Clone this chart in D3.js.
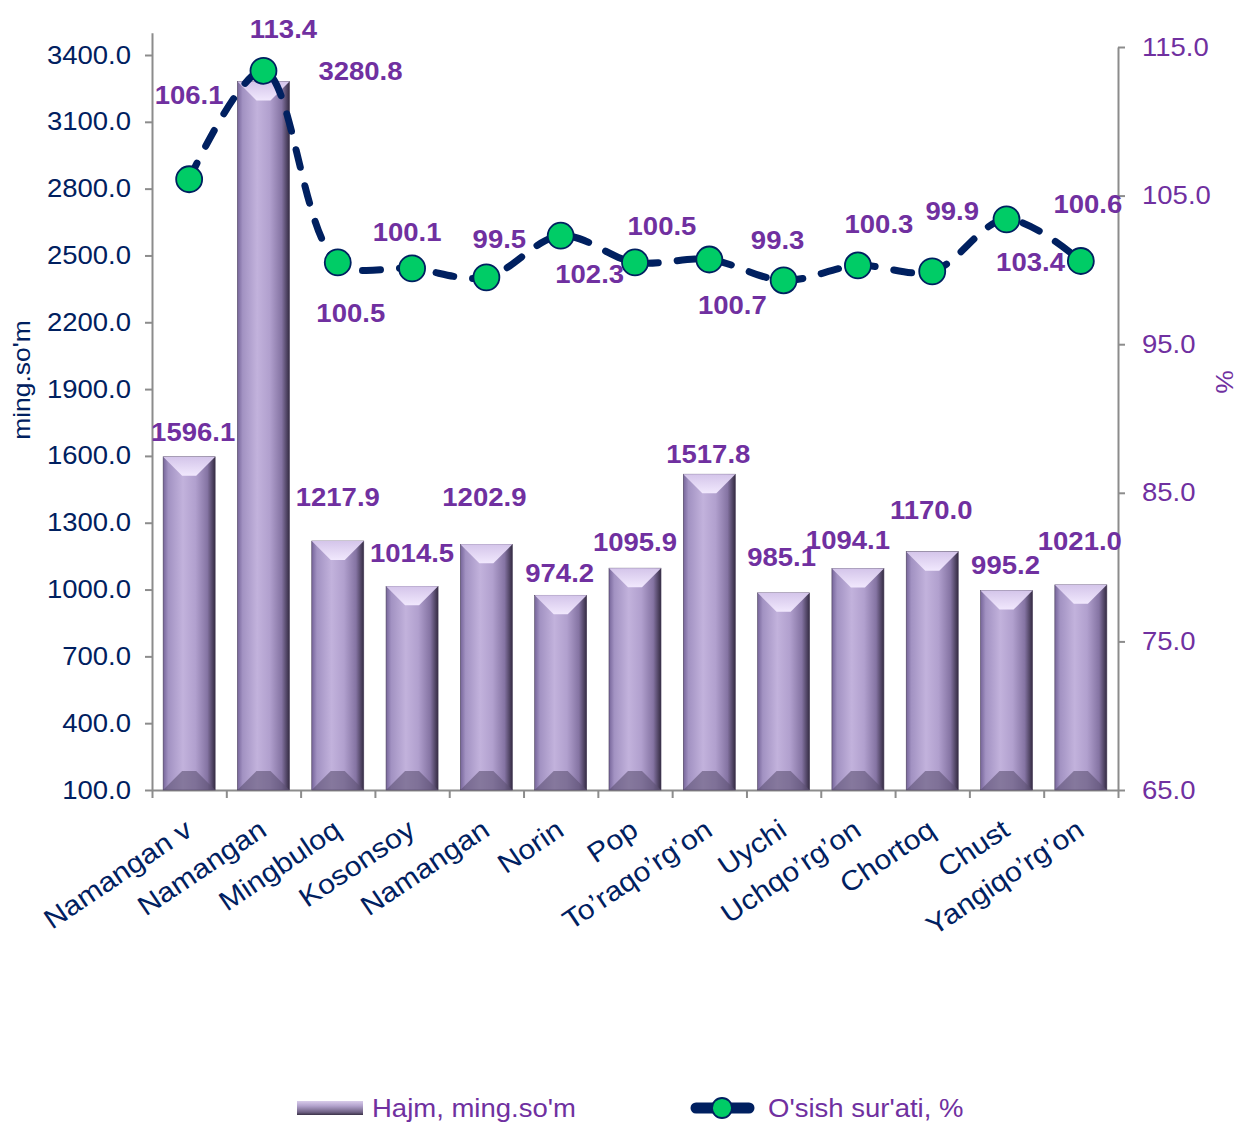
<!DOCTYPE html>
<html lang="uz">
<head>
<meta charset="UTF-8">
<title>Hajm va o'sish sur'ati</title>
<script src="https://d3js.org/d3.v7.min.js"></script>
<style>
  body { margin: 0; background: #fff; }
  text { font-family: "Liberation Sans", Arial, sans-serif; }
</style>
</head>
<body>
<svg width="1239" height="1122"></svg>
<script>
// data
const districts = ["Namangan v", "Namangan", "Mingbuloq", "Kosonsoy", "Namangan", "Norin", "Pop",
                   "To\u2019raqo\u2019rg\u2019on", "Uychi", "Uchqo\u2019rg\u2019on", "Chortoq", "Chust", "Yangiqo\u2019rg\u2019on"];
const volume = [1596.1, 3280.8, 1217.9, 1014.5, 1202.9, 974.2, 1095.9, 1517.8, 985.1, 1094.1, 1170.0, 995.2, 1021.0];
const growth = [106.1, 113.4, 100.5, 100.1, 99.5, 102.3, 100.5, 100.7, 99.3, 100.3, 99.9, 103.4, 100.6];
const leftTicks = [100, 400, 700, 1000, 1300, 1600, 1900, 2200, 2500, 2800, 3100, 3400];
const rightTicks = [65, 75, 85, 95, 105, 115];

// label placement (offsets from the mark, as in the original excel layout)
const barLabelOff = [[4,-25],[97,-10],[0,-44],[0,-33],[-2,-47],[-1,-22],[0,-26],[-1,-20],[-2,-36],[-10,-28],[-1,-41],[-1,-25],[-1,-44]];
const lineLabelOff = [[0,-84],[20,-42],[13,51],[-5,-36],[13,-38],[29,39],[27,-36],[23,46],[-6,-40],[21,-41],[20,-60],[24,43],[7,-57]];

const navy = "#002060", purple = "#7030A0", grey = "#8c8c8c";
const left = 152, right = 1118, bottom = 790;

const svg = d3.select("svg");
const defs = svg.append("defs");

const bodyGrad = defs.append("linearGradient").attr("id", "barBody");
[[0,"#76659a"],[0.1,"#a292c2"],[0.38,"#c2b2dc"],[0.62,"#b1a0ce"],[0.85,"#8574a3"],[1,"#342b42"]]
  .forEach(s => bodyGrad.append("stop").attr("offset", s[0]).attr("stop-color", s[1]));
const topGrad = defs.append("linearGradient").attr("id", "barTop").attr("x1", 0).attr("x2", 0).attr("y1", 0).attr("y2", 1);
topGrad.append("stop").attr("offset", 0).attr("stop-color", "#d4c5ea");
topGrad.append("stop").attr("offset", 1).attr("stop-color", "#f1e8fd");
const legGrad = defs.append("linearGradient").attr("id", "legBar").attr("x1", 0).attr("x2", 0).attr("y1", 0).attr("y2", 1);
[[0,"#d8cbea"],[0.35,"#b2a2cc"],[0.8,"#6f6184"],[1,"#3a3146"]]
  .forEach(s => legGrad.append("stop").attr("offset", s[0]).attr("stop-color", s[1]));

const x = d3.scaleBand().domain(d3.range(districts.length)).range([left, right])
  .paddingInner(0.3).paddingOuter(0.15);
const xEdge = d3.scaleLinear().domain([0, districts.length]).range([left, right]);
const yL = d3.scaleLinear().domain([100, 3500]).range([bottom, bottom - 3400 * (735 / 3300)]);
const yR = d3.scaleLinear().domain([65, 115]).range([bottom, 47]);
const cx = i => x(i) + x.bandwidth() / 2;

// axes
const axL = svg.append("g").attr("transform", `translate(${left},0)`)
  .call(d3.axisLeft(yL).tickValues(leftTicks).tickFormat(d3.format(".1f")).tickSize(7).tickSizeOuter(0).tickPadding(14));
const axR = svg.append("g").attr("transform", `translate(${right},0)`)
  .call(d3.axisRight(yR).tickValues(rightTicks).tickFormat(d3.format(".1f")).tickSize(7).tickSizeOuter(0).tickPadding(17));
const axB = svg.append("g").attr("transform", `translate(0,${bottom})`)
  .call(d3.axisBottom(xEdge).tickValues(d3.range(districts.length + 1)).tickFormat("").tickSize(8).tickSizeOuter(0));
[axL, axR, axB].forEach(g => {
  g.selectAll("path, line").attr("stroke", grey).attr("stroke-width", 2);
  g.selectAll("text").attr("font-size", 25);
});
axL.selectAll("text").attr("fill", navy);
axR.selectAll("text").attr("fill", purple);

// bars with bevel
const b = 19;
const bars = svg.append("g").selectAll("g").data(volume).join("g");
bars.append("rect")
  .attr("x", (d, i) => x(i)).attr("y", d => yL(d))
  .attr("width", x.bandwidth()).attr("height", d => bottom - yL(d))
  .attr("fill", "url(#barBody)").attr("stroke", "#4a3f5a").attr("stroke-width", 0.6);
bars.append("path")
  .attr("d", (d, i) => {
    const x0 = x(i), x1 = x(i) + x.bandwidth(), y0 = yL(d);
    return `M${x0},${y0}L${x1},${y0}L${x1 - b},${y0 + b}L${x0 + b},${y0 + b}Z`;
  })
  .attr("fill", "url(#barTop)");
bars.append("path")
  .attr("d", (d, i) => {
    const x0 = x(i), x1 = x(i) + x.bandwidth();
    return `M${x0},${bottom}L${x1},${bottom}L${x1 - b},${bottom - b}L${x0 + b},${bottom - b}Z`;
  })
  .attr("fill", "#5e5173").attr("opacity", 0.6);

// growth line
const line = d3.line().x((d, i) => cx(i)).y(d => yR(d)).curve(d3.curveCatmullRom.alpha(0.5));
svg.append("path").datum(growth).attr("d", line)
  .attr("fill", "none").attr("stroke", navy).attr("stroke-width", 7)
  .attr("stroke-dasharray", "18,19").attr("stroke-linecap", "round");
svg.append("g").selectAll("circle").data(growth).join("circle")
  .attr("cx", (d, i) => cx(i)).attr("cy", d => yR(d)).attr("r", 13)
  .attr("fill", "#00cc66").attr("stroke", navy).attr("stroke-width", 1.8);

// data labels
svg.append("g").selectAll("text").data(volume).join("text")
  .attr("x", (d, i) => cx(i) + barLabelOff[i][0]).attr("y", (d, i) => yL(d) + barLabelOff[i][1])
  .attr("dy", "0.35em").attr("text-anchor", "middle")
  .attr("font-size", 25).attr("font-weight", "bold").attr("fill", purple)
  .text(d => d.toFixed(1));
svg.append("g").selectAll("text").data(growth).join("text")
  .attr("x", (d, i) => cx(i) + lineLabelOff[i][0]).attr("y", (d, i) => yR(d) + lineLabelOff[i][1])
  .attr("dy", "0.35em").attr("text-anchor", "middle")
  .attr("font-size", 25).attr("font-weight", "bold").attr("fill", purple)
  .text(d => d.toFixed(1));

// category labels
svg.append("g").selectAll("text").data(districts).join("text")
  .attr("transform", (d, i) => `translate(${cx(i) + 5},834) rotate(-34)`)
  .attr("text-anchor", "end").attr("font-size", 27.5).attr("fill", navy)
  .text(d => d);

// axis titles
svg.append("text").attr("transform", "translate(30,380) rotate(-90)")
  .attr("text-anchor", "middle").attr("font-size", 24).attr("fill", navy).text("ming.so'm");
svg.append("text").attr("transform", "translate(1216,382) rotate(90)")
  .attr("text-anchor", "middle").attr("font-size", 24).attr("fill", purple).text("%");

// legend
const leg = svg.append("g");
leg.append("rect").attr("x", 297).attr("y", 1101).attr("width", 66).attr("height", 14).attr("fill", "url(#legBar)");
leg.append("text").attr("x", 372).attr("y", 1117).attr("font-size", 25).attr("fill", purple).text("Hajm, ming.so'm");
leg.append("line").attr("x1", 696).attr("x2", 749).attr("y1", 1108).attr("y2", 1108)
  .attr("stroke", navy).attr("stroke-width", 11).attr("stroke-linecap", "round");
leg.append("circle").attr("cx", 722).attr("cy", 1108).attr("r", 10)
  .attr("fill", "#00cc66").attr("stroke", navy).attr("stroke-width", 1.8);
leg.append("text").attr("x", 768).attr("y", 1117).attr("font-size", 25).attr("fill", purple).text("O'sish sur'ati, %");

// the original text is a little wider than the font, stretch it sideways
svg.selectAll("text").each(function () {
  const w = this.getComputedTextLength();
  this.setAttribute("textLength", w * 1.1);
  this.setAttribute("lengthAdjust", "spacingAndGlyphs");
});
</script>
</body>
</html>
